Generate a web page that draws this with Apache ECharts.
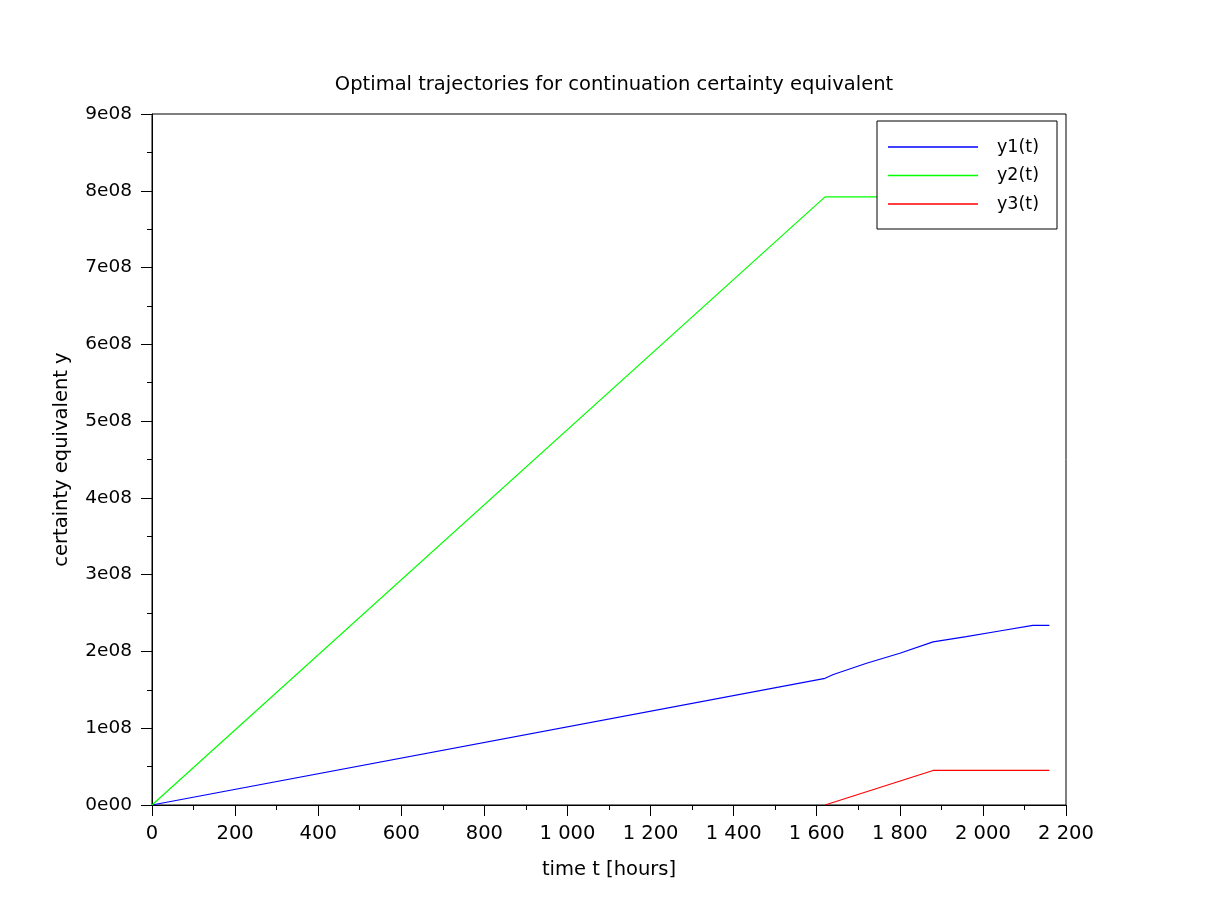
<!DOCTYPE html>
<html>
<head>
<meta charset="utf-8">
<script src="https://cdn.jsdelivr.net/npm/echarts@6/dist/echarts.min.js"></script>
<style>
html,body{margin:0;padding:0;background:#fff;}
#chart{width:1220px;height:920px;}
</style>
</head>
<body>
<div id="chart"></div>
<script>
const seriesNames = ['y1(t)', 'y2(t)', 'y3(t)'];
const t1 = [0, 1620, 1640, 1720, 1800, 1880, 1960, 2040, 2120, 2160];
const y1 = [0, 1.65e8, 1.70e8, 1.846e8, 1.976e8, 2.125e8, 2.192e8, 2.266e8, 2.34e8, 2.34e8];
const t2 = [0, 1620, 2160];
const y2 = [0, 7.92e8, 7.92e8];
const t3 = [1620, 1880, 2160];
const y3 = [0, 0.45e8, 0.45e8];
const colors = ['#0000ff', '#00ff00', '#ff0000'];

const FONT = 'DejaVu Sans';
function pairs(t, y) { return t.map((v, i) => [v, y[i]]); }
function fmtY(v) {
  if (v === 0) return '0e00';
  const e = Math.floor(Math.log10(v) + 1e-9);
  const m = Math.round(v / Math.pow(10, e) * 100) / 100;
  return m + 'e' + String(e).padStart(2, '0');
}
function fmtX(v) {
  if (v >= 1000) return Math.floor(v / 1000) + ' ' + String(v % 1000).padStart(3, '0');
  return String(v);
}

const chart = echarts.init(document.getElementById('chart'), null, {renderer: 'canvas'});
chart.setOption({
  animation: false,
  backgroundColor: '#fff',
  title: {
    text: 'Optimal trajectories for continuation certainty equivalent',
    left: 609, textAlign: 'center', top: 70,
    textStyle: {fontFamily: FONT, fontSize: 19.5, fontWeight: 'normal', color: '#000'}
  },
  grid: {left: 152, right: 154, top: 114, bottom: 115, show: true, borderColor: '#000', borderWidth: 1, backgroundColor: 'transparent'},
  legend: {
    left: 877, top: 121, orient: 'vertical',
    backgroundColor: '#fff', borderColor: '#000', borderWidth: 1,
    padding: [16, 18, 15, 11],
    itemWidth: 90, itemHeight: 1.5, itemGap: 8.5,
    icon: 'rect',
    data: seriesNames,
    textStyle: {fontFamily: FONT, fontSize: 17.5, color: '#000', lineHeight: 20, padding: [0, 0, 0, 14]}
  },
  xAxis: {
    type: 'value', min: 0, max: 2200, interval: 200,
    name: 'time t [hours]', nameLocation: 'middle', nameGap: 55,
    nameTextStyle: {fontFamily: FONT, fontSize: 19.5, color: '#000'},
    axisLine: {show: true, onZero: false, lineStyle: {color: '#000', width: 1}},
    axisTick: {show: true, inside: false, length: 11, lineStyle: {color: '#000'}},
    minorTick: {show: true, splitNumber: 2, length: 5, lineStyle: {color: '#000'}},
    splitLine: {show: false},
    axisLabel: {fontFamily: FONT, fontSize: 19.5, color: '#000', margin: 19, formatter: fmtX}
  },
  yAxis: {
    type: 'value', min: 0, max: 9e8, interval: 1e8,
    name: 'certainty equivalent y', nameLocation: 'middle', nameGap: 80, nameRotate: 90,
    nameTextStyle: {fontFamily: FONT, fontSize: 19.5, color: '#000'},
    axisLine: {show: true, lineStyle: {color: '#000', width: 1}},
    axisTick: {show: true, inside: false, length: 11, lineStyle: {color: '#000'}},
    minorTick: {show: true, splitNumber: 2, length: 5, lineStyle: {color: '#000'}},
    splitLine: {show: false},
    axisLabel: {fontFamily: FONT, fontSize: 18.5, color: '#000', margin: 20, formatter: fmtY}
  },
  series: [
    {name: seriesNames[0], type: 'line', data: pairs(t1, y1), symbol: 'none', lineStyle: {color: colors[0], width: 1.2}, itemStyle: {color: colors[0]}},
    {name: seriesNames[1], type: 'line', data: pairs(t2, y2), symbol: 'none', lineStyle: {color: colors[1], width: 1.2}, itemStyle: {color: colors[1]}},
    {name: seriesNames[2], type: 'line', data: pairs(t3, y3), symbol: 'none', lineStyle: {color: colors[2], width: 1.2}, itemStyle: {color: colors[2]}}
  ]
});
</script>
</body>
</html>
